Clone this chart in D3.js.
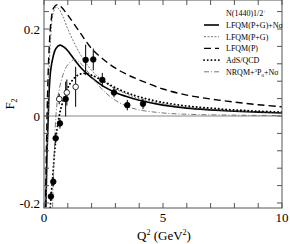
<!DOCTYPE html>
<html>
<head>
<meta charset="utf-8">
<script src="https://cdn.jsdelivr.net/npm/d3@7"></script>
<style>
  body { margin: 0; background: #fff; }
  text { font-family: "Liberation Serif", "DejaVu Serif", serif; fill: #000; }
</style>
</head>
<body>
<svg id="chart"></svg>
<script>
// curves: Q^2 (GeV^2) and F2 values
var solidQ = [0.08, 0.12, 0.18, 0.22, 0.28, 0.39, 0.5, 0.67, 0.85, 1.0, 1.3, 1.6, 2.0, 2.5, 3.0, 3.5, 4, 5, 6, 7, 8, 9, 10];
var solidF = [-0.21, -0.1, 0.0, 0.06, 0.105, 0.138, 0.155, 0.163, 0.158, 0.15, 0.128, 0.108, 0.088, 0.068, 0.054, 0.044, 0.036, 0.025, 0.018, 0.014, 0.011, 0.009, 0.007];

var pgQ = [0.1, 0.15, 0.2, 0.28, 0.38, 0.5, 0.6, 0.8, 1.0, 1.3, 1.6, 2.0, 2.5, 3, 3.5, 4, 5, 6, 8, 10];
var pgF = [-0.21, -0.05, 0.08, 0.18, 0.235, 0.25, 0.248, 0.228, 0.2, 0.165, 0.135, 0.105, 0.08, 0.062, 0.05, 0.04, 0.028, 0.02, 0.012, 0.008];

var pQ = [0.06, 0.1, 0.15, 0.22, 0.3, 0.4, 0.55, 0.7, 1.0, 1.5, 2, 2.5, 3, 3.5, 4, 5, 6, 7, 8, 9, 10];
var pF = [-0.21, -0.08, 0.05, 0.16, 0.22, 0.248, 0.256, 0.252, 0.232, 0.193, 0.155, 0.13, 0.11, 0.095, 0.083, 0.062, 0.048, 0.039, 0.032, 0.026, 0.021];

var adsQ = [0.26, 0.35, 0.45, 0.55, 0.7, 0.9, 1.1, 1.4, 1.7, 2.0, 2.5, 3, 3.5, 4, 5, 6, 7, 8, 9, 10];
var adsF = [-0.21, -0.15, -0.08, -0.03, 0.015, 0.05, 0.075, 0.093, 0.098, 0.094, 0.08, 0.065, 0.053, 0.044, 0.031, 0.023, 0.018, 0.014, 0.011, 0.009];

var nrqmQ = [0.36, 0.42, 0.5, 0.6, 0.8, 1.0, 1.3, 1.6, 2.0, 2.5, 3, 3.5, 4, 5, 6, 8, 10];
var nrqmF = [-0.21, -0.1, 0.0, 0.05, 0.095, 0.118, 0.13, 0.118, 0.09, 0.058, 0.036, 0.022, 0.014, 0.007, 0.004, 0.002, 0.001];

// data points
var fullQ = [0.29, 0.39, 0.49, 0.67, 0.91, 1.75, 2.07, 2.45, 2.94, 3.5, 4.16];
var fullF = [-0.185, -0.151, -0.051, -0.017, 0.039, 0.129, 0.130, 0.083, 0.054, 0.025, 0.028];
var fullE = [0.01, 0.01, 0.012, 0.012, 0.04, 0.035, 0.025, 0.016, 0.011, 0.012, 0.012];

var openQ = [0.64, 0.96, 1.33];
var openF = [0.039, 0.054, 0.067];
var openE = [0.012, 0.03, 0.046];

var xTicks = [0, 1, 2, 3, 4, 5, 6, 7, 8, 9, 10];
var xLabels = [0, 5, 10];
var yTicks = [-0.2, -0.16, -0.12, -0.08, -0.04, 0, 0.04, 0.08, 0.12, 0.16, 0.2, 0.24];
var yLabels = [-0.2, 0, 0.2];

var legendTitle = "N(1440)1/2";
var legendNames = ["LFQM(P+G)+N\u03c3", "LFQM(P+G)", "LFQM(P)", "AdS/QCD", "NRQM+"];

var W = 290, H = 244;
var svg = d3.select('#chart').attr('width', W).attr('height', H);
var x = d3.scaleLinear().domain([0, 10]).range([44, 282]);
var y = d3.scaleLinear().domain([-0.2, 0.2]).range([203, 29]);
var plotTop = 0, plotBottom = 208;

var styles = [
  { stroke: '#000', width: 1.6, dash: null, cap: 'butt' },
  { stroke: '#666', width: 0.9, dash: '2,1.5', cap: 'butt' },
  { stroke: '#000', width: 1.4, dash: '7,4', cap: 'butt' },
  { stroke: '#000', width: 1.9, dash: '0.1,3.6', cap: 'round' },
  { stroke: '#666', width: 0.9, dash: '5,2,1,2', cap: 'butt' }
];
var series = [
  d3.zip(solidQ, solidF), d3.zip(pgQ, pgF), d3.zip(pQ, pF), d3.zip(adsQ, adsF), d3.zip(nrqmQ, nrqmF)
];

svg.append('clipPath').attr('id', 'clip').append('rect')
  .attr('x', 44).attr('y', plotTop).attr('width', 238).attr('height', plotBottom - plotTop);

// zero line
svg.append('line').attr('x1', x(0)).attr('x2', x(10)).attr('y1', y(0)).attr('y2', y(0))
  .attr('stroke', '#888').attr('stroke-width', 1);

var line = d3.line().x(function (d) { return x(d[0]); }).y(function (d) { return y(d[1]); })
  .curve(d3.curveCatmullRom);
var g = svg.append('g').attr('clip-path', 'url(#clip)');
series.forEach(function (s, i) {
  g.append('path').attr('d', line(s)).attr('fill', 'none')
    .attr('stroke', styles[i].stroke).attr('stroke-width', styles[i].width)
    .attr('stroke-dasharray', styles[i].dash)
    .attr('stroke-linecap', styles[i].cap);
});

// error bars and points
function drawPoints(qs, fs, es, open) {
  var d = d3.zip(qs, fs, es);
  g.selectAll(null).data(d).enter().append('line')
    .attr('x1', function (p) { return x(p[0]); }).attr('x2', function (p) { return x(p[0]); })
    .attr('y1', function (p) { return y(p[1] - p[2]); }).attr('y2', function (p) { return y(p[1] + p[2]); })
    .attr('stroke', '#000').attr('stroke-width', 1);
  g.selectAll(null).data(d).enter().append('circle')
    .attr('cx', function (p) { return x(p[0]); }).attr('cy', function (p) { return y(p[1]); })
    .attr('r', 2.8).attr('fill', open ? '#fff' : '#000').attr('stroke', '#000').attr('stroke-width', 0.8);
}
drawPoints(fullQ, fullF, fullE, false);
drawPoints(openQ, openF, openE, true);

// frame
svg.append('rect').attr('x', 44).attr('y', plotTop).attr('width', 238).attr('height', plotBottom - plotTop)
  .attr('fill', 'none').attr('stroke', '#555').attr('stroke-width', 1);

// ticks inside on all four sides
var ax = svg.append('g').attr('stroke', '#555').attr('stroke-width', 1);
xTicks.forEach(function (t) {
  ax.append('line').attr('x1', x(t)).attr('x2', x(t)).attr('y1', plotBottom).attr('y2', plotBottom - 5);
  ax.append('line').attr('x1', x(t)).attr('x2', x(t)).attr('y1', plotTop).attr('y2', plotTop + 5);
});
yTicks.forEach(function (t) {
  ax.append('line').attr('x1', 44).attr('x2', 49).attr('y1', y(t)).attr('y2', y(t));
  ax.append('line').attr('x1', 282).attr('x2', 277).attr('y1', y(t)).attr('y2', y(t));
});

svg.selectAll('.xl').data(xLabels).enter().append('text')
  .attr('x', function (d) { return x(d); }).attr('y', 222)
  .attr('text-anchor', 'middle').attr('font-size', 13).text(function (d) { return d; });
svg.selectAll('.yl').data(yLabels).enter().append('text')
  .attr('x', 40).attr('y', function (d) { return y(d) + 4.5; })
  .attr('text-anchor', 'end').attr('font-size', 13).text(function (d) { return d == 0 ? '0' : d; });

// axis titles
var xt = svg.append('text').attr('x', 164).attr('y', 240).attr('text-anchor', 'middle').attr('font-size', 13);
xt.append('tspan').text('Q');
xt.append('tspan').attr('dy', -5).attr('font-size', 8).text('2');
xt.append('tspan').attr('dy', 5).text(' (GeV');
xt.append('tspan').attr('dy', -5).attr('font-size', 8).text('2');
xt.append('tspan').attr('dy', 5).text(')');

var yt = svg.append('text').attr('transform', 'translate(14,104) rotate(-90)').attr('text-anchor', 'middle').attr('font-size', 13);
yt.append('tspan').text('F');
yt.append('tspan').attr('dy', 3).attr('font-size', 8).text('2');

// legend
var lg = svg.append('g').attr('font-size', 8);
var t0 = lg.append('text').attr('x', 226).attr('y', 16);
t0.append('tspan').text(legendTitle);
t0.append('tspan').attr('dy', -3).attr('font-size', 5).text('+');
legendNames.forEach(function (n, i) {
  var yy = 25 + i * 11.7;
  lg.append('line').attr('x1', 204).attr('x2', 219).attr('y1', yy).attr('y2', yy)
    .attr('stroke', styles[i].stroke).attr('stroke-width', styles[i].width)
    .attr('stroke-dasharray', styles[i].dash).attr('stroke-linecap', styles[i].cap);
  var tx = lg.append('text').attr('x', 226).attr('y', yy + 2.8);
  tx.append('tspan').text(n);
  if (i == 4) {
    tx.append('tspan').attr('dy', -3).attr('font-size', 5).text('3');
    tx.append('tspan').attr('dy', 3).text('P');
    tx.append('tspan').attr('dy', 2).attr('font-size', 5).text('0');
    tx.append('tspan').attr('dy', -2).text('+N\u03c3');
  }
});
</script>
</body>
</html>
